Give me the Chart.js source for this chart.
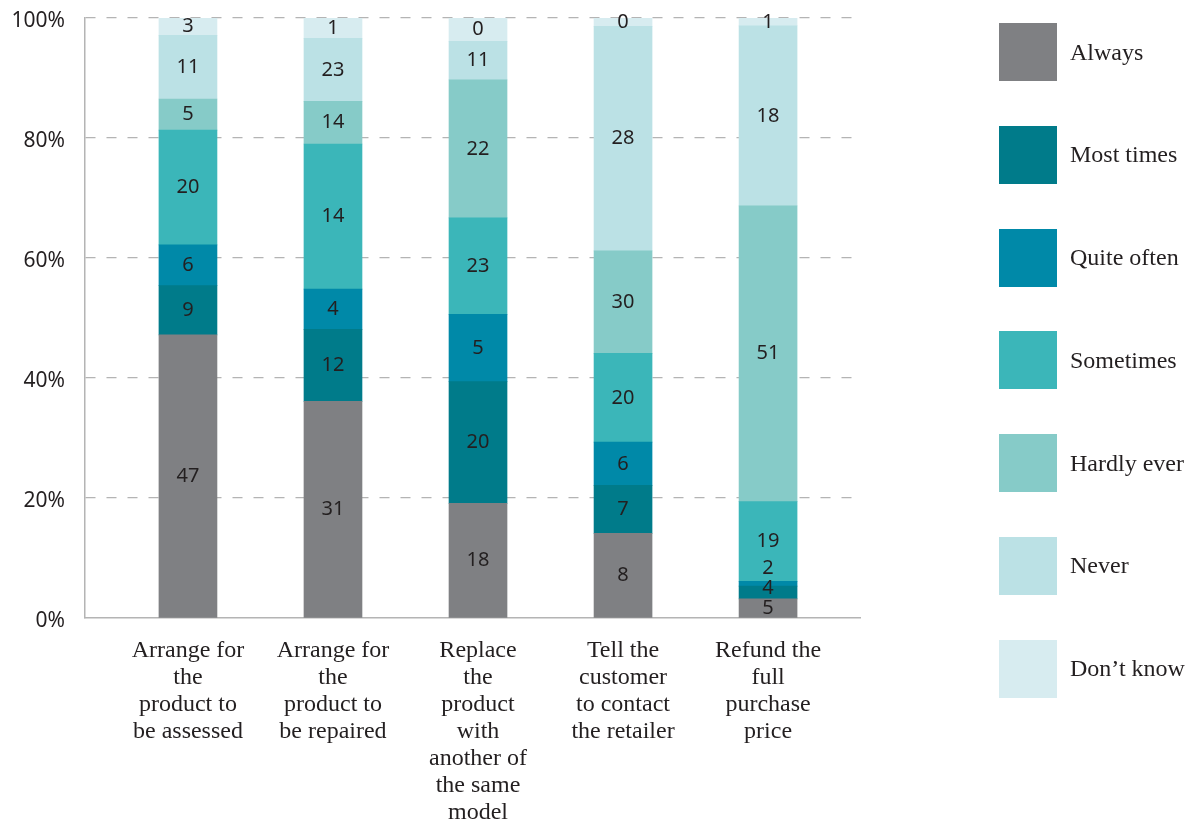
<!DOCTYPE html>
<html>
<head>
<meta charset="utf-8">
<title>Stacked bars</title>
<script src="https://cdn.jsdelivr.net/npm/chart.js@4.4.1/dist/chart.umd.min.js"></script>
<style>
  body { margin: 0; background: #fff; }
  #wrap { position: relative; width: 1200px; height: 823px; }
  #legend { position: absolute; left: 999px; top: 23px; font-family: "Liberation Serif", serif; font-size: 24px; color: #231f20; }
  .item { display: flex; align-items: center; height: 58px; margin-bottom: 44.8px; }
  .box { width: 58px; height: 58px; margin-right: 13px; }
</style>
</head>
<body>
<div id="wrap">
  <canvas id="myChart" width="1200" height="823"></canvas>
  <div id="legend"></div>
</div>
<script>
(function () {
    "use strict";

    const categories = [
        ['Arrange for', 'the', 'product to', 'be assessed'],
        ['Arrange for', 'the', 'product to', 'be repaired'],
        ['Replace', 'the', 'product', 'with', 'another of', 'the same', 'model'],
        ['Tell the', 'customer', 'to contact', 'the retailer'],
        ['Refund the', 'full', 'purchase', 'price']
    ];
    const seriesNames = ['Always', 'Most times', 'Quite often', 'Sometimes', 'Hardly ever', 'Never', 'Don\u2019t know'];

    // height of each segment as drawn (% of the bar)
    const always     = [47.2, 36.1, 19.1, 14.1, 3.2];
    const mostTimes  = [8.2, 12.0, 20.3, 8.0, 2.1];
    const quiteOften = [6.8, 6.7, 11.2, 7.2, 0.8];
    const sometimes  = [19.1, 24.2, 16.1, 14.8, 13.3];
    const hardlyEver = [5.2, 7.1, 23.0, 17.1, 49.3];
    const never      = [10.6, 10.5, 6.4, 37.4, 30.0];
    const dontKnow   = [2.9, 3.4, 3.9, 1.4, 1.3];

    // numbers printed inside the segments
    const alwaysLbl = [47, 31, 18, 8, 5];
    const mostLbl   = [9, 12, 20, 7, 4];
    const quiteLbl  = [6, 4, 5, 6, 2];
    const someLbl   = [20, 14, 23, 20, 19];
    const hardlyLbl = [5, 14, 22, 30, 51];
    const neverLbl  = [11, 23, 11, 28, 18];
    const dkLbl     = [3, 1, 0, 0, 1];

    const yTicks = [0, 20, 40, 60, 80, 100];

    const heights = [always, mostTimes, quiteOften, sometimes, hardlyEver, never, dontKnow];
    const printed = [alwaysLbl, mostLbl, quiteLbl, someLbl, hardlyLbl, neverLbl, dkLbl];
    const colours = ['#7f8083', '#007b8a', '#0089a8', '#3bb6b9', '#86cbc8', '#bbe1e5', '#d7ecf0'];

    const gridGrey = '#b4b4b4';
    const textCol = '#231f20';

    // numbers inside the bars, pushed up when a segment is too thin
    const segmentLabels = {
        id: 'segmentLabels',
        afterDatasetsDraw(chart) {
            const ctx = chart.ctx;
            ctx.save();
            ctx.font = '20px "Noto Sans"';
            ctx.fillStyle = textCol;
            ctx.textAlign = 'center';
            ctx.textBaseline = 'middle';
            categories.forEach((c, i) => {
                let prev = Infinity;
                heights.forEach((h, k) => {
                    const bar = chart.getDatasetMeta(k).data[i];
                    const y = Math.min((bar.y + bar.base) / 2, prev - 20);
                    ctx.fillText(String(printed[k][i]), bar.x, y);
                    prev = y;
                });
            });
            ctx.restore();
        }
    };

    let ctx = document.getElementById('myChart');
    let chart = new Chart(ctx, {
        type: 'bar',
        data: {
            datasets: seriesNames.map((name, k) => ({
                label: name,
                data: heights[k].map((v, i) => ({ x: i, y: v })),
                backgroundColor: colours[k],
                barThickness: 58,
                borderWidth: 0
            }))
        },
        options: {
            responsive: false,
            animation: false,
            layout: { padding: { top: 18, right: 340, bottom: 0, left: 0 } },
            plugins: {
                legend: { display: false },
                tooltip: { enabled: false }
            },
            scales: {
                x: {
                    type: 'linear',
                    stacked: true,
                    offset: false,
                    min: -0.71,
                    max: 4.634,
                    afterFit: s => { s.height = 205; },
                    afterBuildTicks: s => { s.ticks = categories.map((c, i) => ({ value: i })); },
                    ticks: {
                        callback: v => categories[v],
                        autoSkip: false,
                        maxRotation: 0,
                        padding: 19,
                        color: textCol,
                        font: { family: 'Liberation Serif', size: 24, lineHeight: '27px' }
                    },
                    grid: { display: false, drawTicks: false, offset: false },
                    border: { display: true, color: gridGrey, width: 1.5 }
                },
                y: {
                    stacked: true,
                    min: 0,
                    max: 100,
                    afterFit: s => {
                        s.width = 85;
                        s.paddingTop = 0;
                        s.paddingBottom = 0;
                    },
                    afterBuildTicks: s => { s.ticks = yTicks.map(v => ({ value: v })); },
                    ticks: {
                        callback: v => v + '%',
                        padding: 20,
                        labelOffset: 3,
                        color: textCol,
                        font: { family: 'Noto Sans', size: 21 }
                    },
                    grid: {
                        color: c => (c.tick && c.tick.value === 0) ? 'rgba(0,0,0,0)' : gridGrey,
                        lineWidth: 1.3,
                        drawTicks: false
                    },
                    border: { display: true, color: gridGrey, width: 1.5, dash: [10, 11] }
                }
            }
        },
        plugins: [segmentLabels]
    });

    // legend on the right, one square per series
    let legend = document.getElementById('legend');
    chart.data.datasets.forEach(ds => {
        let item = document.createElement('div');
        item.className = 'item';
        let box = document.createElement('span');
        box.className = 'box';
        box.style.background = ds.backgroundColor;
        let txt = document.createElement('span');
        txt.textContent = ds.label;
        item.appendChild(box);
        item.appendChild(txt);
        legend.appendChild(item);
    });
})();
</script>
</body>
</html>
